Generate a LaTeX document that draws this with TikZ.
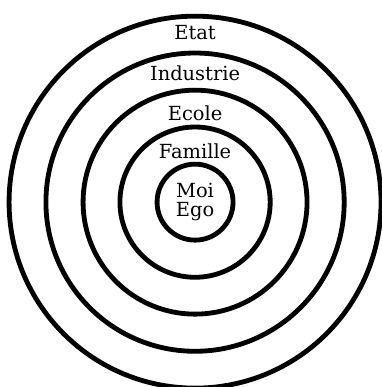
\documentclass[tikz,border=0pt]{standalone}
\usepackage{fontspec}
\setmainfont{DejaVu Serif}
\usepackage{tikz}
\usetikzlibrary{positioning}

\begin{document}
\begin{tikzpicture}[
  ring/.style={draw=black,line width=1.7mm},
  lbl/.style={font=\fontsize{19.5}{19.5}\selectfont,inner sep=0pt,anchor=base},
]
  \useasboundingbox (-6.88,7.13) rectangle (6.56,-6.52);
  \coordinate (ego) at (0,0);

  \draw[ring] (ego) circle (1.34);
  \draw[ring] (ego) circle (2.65);
  \draw[ring] (ego) circle (3.95);
  \draw[ring] (ego) circle (5.26);
  \draw[ring] (ego) circle (6.56);

  \node[lbl] (etat) at (0,5.72) {Etat};
  \node[lbl] (industrie) at (0,4.30) {Industrie};
  \node[lbl] (ecole) at (0,2.89) {Ecole};
  \node[lbl] (famille) at (0,1.55) {Famille};
  \node[lbl,anchor=center,align=center] (moi) at (ego) {Moi\\Ego};
\end{tikzpicture}
\end{document}
